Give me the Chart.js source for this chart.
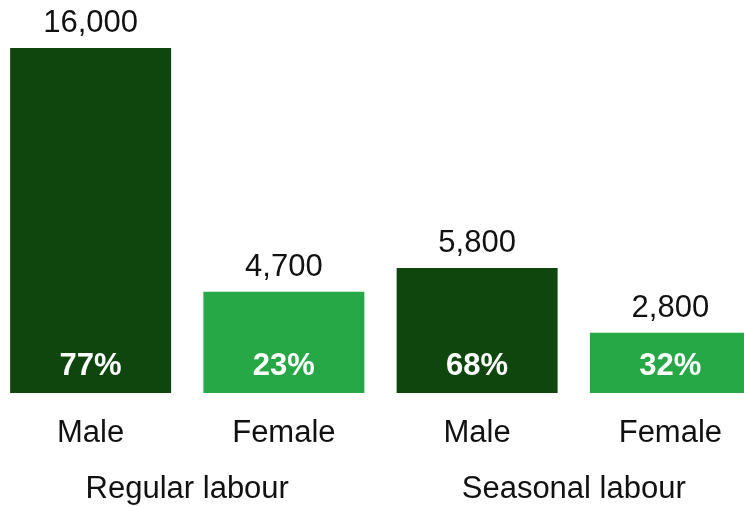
<!DOCTYPE html>
<html>
<head>
<meta charset="utf-8">
<script src="https://cdn.jsdelivr.net/npm/chart.js@4"></script>
<style>
    html, body { margin: 0; padding: 0; background: #fff; overflow: hidden; }
    #wrap { position: relative; width: 773px; height: 506px; margin-left: -6px; }
</style>
</head>
<body>
<div id="wrap"><canvas id="chart"></canvas></div>
<script>
// Workers by type of labour and sex
const categories = ['Male', 'Female', 'Male', 'Female'];
const groups = ['Regular labour', 'Seasonal labour'];
const workers = [16000, 4700, 5800, 2800];
const shares = ['77%', '23%', '68%', '32%'];
const barColors = ['#0f460d', '#26a846', '#0f460d', '#26a846'];

const FONT = "'Liberation Sans', Arial, sans-serif";

// Value labels above bars, shares inside bars, category + group labels below
const barLabels = {
    id: 'barLabels',
    afterDatasetsDraw(chart) {
        const ctx = chart.ctx;
        const meta = chart.getDatasetMeta(0);
        const x = chart.scales.x;
        ctx.save();
        ctx.textAlign = 'center';
        ctx.textBaseline = 'alphabetic';
        meta.data.forEach((bar, i) => {
            ctx.fillStyle = '#111';
            ctx.font = '31px ' + FONT;
            ctx.fillText(workers[i].toLocaleString('en-US'), bar.x, bar.y - 16);
            ctx.fillText(categories[i], bar.x, bar.base + 49);
            ctx.fillStyle = '#fff';
            ctx.font = 'bold 31px ' + FONT;
            ctx.fillText(shares[i], bar.x, bar.base - 18);
        });
        ctx.fillStyle = '#111';
        ctx.font = '31px ' + FONT;
        groups.forEach((g, j) => {
            const cx = (x.getPixelForValue(j * 2) + x.getPixelForValue(j * 2 + 1)) / 2;
            ctx.fillText(g, cx, meta.data[0].base + 105);
        });
        ctx.restore();
    }
};

new Chart(document.getElementById('chart'), {
    type: 'bar',
    data: {
        labels: categories,
        datasets: [{
            data: workers,
            backgroundColor: barColors,
            borderWidth: 0,
            barPercentage: 0.833,
            categoryPercentage: 1
        }]
    },
    options: {
        responsive: true,
        maintainAspectRatio: false,
        animation: false,
        layout: { padding: { top: 48, left: 0, right: 0, bottom: 113 } },
        plugins: {
            legend: { display: false },
            tooltip: { enabled: false }
        },
        scales: {
            x: { display: false },
            y: { display: false, min: 0, max: 16000 }
        }
    },
    plugins: [barLabels]
});
</script>
</body>
</html>
